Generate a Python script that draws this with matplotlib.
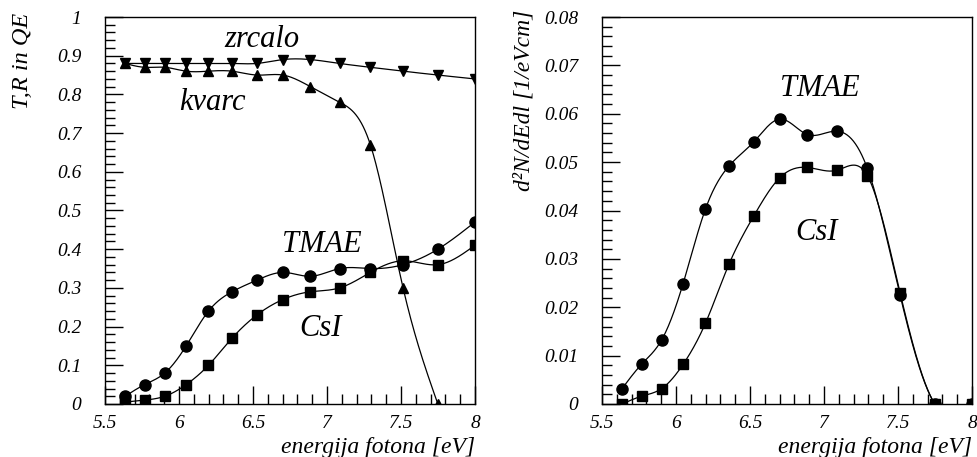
import numpy as np
import matplotlib
matplotlib.use('Agg')
import matplotlib.pyplot as plt
from matplotlib.ticker import MultipleLocator, FuncFormatter

# === DATI ===
energija = [5.636, 5.767, 5.904, 6.048, 6.199, 6.358, 6.526, 6.702,
            6.888, 7.085, 7.293, 7.514, 7.749, 7.999]

zrcalo = [0.88, 0.88, 0.88, 0.88, 0.88, 0.88, 0.88, 0.89, 0.89, 0.88,
          0.87, 0.86, 0.85, 0.84]
kvarc = [0.88, 0.87, 0.87, 0.86, 0.86, 0.86, 0.85, 0.85, 0.82, 0.78,
         0.67, 0.30, 0.0]
qe_tmae = [0.02, 0.05, 0.08, 0.15, 0.24, 0.29, 0.32, 0.34, 0.33, 0.35,
           0.35, 0.36, 0.40, 0.47]
qe_csi = [0.005, 0.01, 0.02, 0.05, 0.10, 0.17, 0.23, 0.27, 0.29, 0.30,
          0.34, 0.37, 0.36, 0.41]

dn_tmae = [0.0032, 0.0082, 0.0133, 0.0249, 0.0403, 0.0492, 0.0542, 0.0589,
           0.0557, 0.0564, 0.0487, 0.0225, 0.0, 0.0]
dn_csi = [0.0, 0.0016, 0.0032, 0.0082, 0.0167, 0.0289, 0.0389, 0.0468,
          0.0489, 0.0483, 0.0472, 0.0230, 0.0, 0.0]

FONT = 'Liberation Serif'
plt.rcParams['font.family'] = FONT
plt.rcParams['font.style'] = 'italic'


def spline(x, y, n=500):
    # prirodni kubni spline (kao opcija "C" u ROOT-u)
    x = np.asarray(x, float)
    y = np.asarray(y, float)
    m = len(x)
    h = np.diff(x)
    A = np.zeros((m, m))
    b = np.zeros(m)
    A[0, 0] = 1
    A[-1, -1] = 1
    for i in range(1, m - 1):
        A[i, i - 1] = h[i - 1]
        A[i, i] = 2 * (h[i - 1] + h[i])
        A[i, i + 1] = h[i]
        b[i] = 6 * ((y[i + 1] - y[i]) / h[i] - (y[i] - y[i - 1]) / h[i - 1])
    M = np.linalg.solve(A, b)
    xs = np.linspace(x[0], x[-1], n)
    k = np.clip(np.searchsorted(x, xs) - 1, 0, m - 2)
    t1 = x[k + 1] - xs
    t0 = xs - x[k]
    hk = h[k]
    ys = (M[k] * t1 ** 3 + M[k + 1] * t0 ** 3) / (6 * hk) \
        + (y[k] / hk - M[k] * hk / 6) * t1 + (y[k + 1] / hk - M[k + 1] * hk / 6) * t0
    return xs, ys


def crtaj(ax, x, y, marker, ms):
    xs, ys = spline(x, y)
    ax.plot(xs, ys, color='black', lw=0.9)
    ax.plot(x, y, ls='none', marker=marker, ms=ms, color='black')


def osi(ax, ymax, ymaj, ymin):
    ax.set_xlim(5.5, 8)
    ax.set_ylim(0, ymax)
    ax.xaxis.set_major_locator(MultipleLocator(0.5))
    ax.xaxis.set_minor_locator(MultipleLocator(0.1))
    ax.yaxis.set_major_locator(MultipleLocator(ymaj))
    ax.yaxis.set_minor_locator(MultipleLocator(ymin))
    fmt = FuncFormatter(lambda v, p: '%g' % round(v, 4))
    ax.xaxis.set_major_formatter(fmt)
    ax.yaxis.set_major_formatter(fmt)
    ax.tick_params(which='both', direction='in', top=False, right=False,
                   width=1, labelsize=14)
    ax.tick_params(which='major', length=13)
    ax.tick_params(which='minor', length=7)
    ax.tick_params(axis='y', pad=17)
    ax.tick_params(axis='x', pad=8)
    for s in ax.spines.values():
        s.set_linewidth(1)
    ax.text(1.0, -0.127, 'energija fotona [eV]', transform=ax.transAxes,
            ha='right', va='baseline', fontsize=17)


fig = plt.figure(figsize=(9.77, 4.57), dpi=100)
ax1 = fig.add_axes([105 / 977, 53 / 457, 370 / 977, 387 / 457])
ax2 = fig.add_axes([602 / 977, 53 / 457, 370 / 977, 387 / 457])

# lijevi graf
osi(ax1, 1.0, 0.1, 0.02)
crtaj(ax1, energija, zrcalo, 'v', 7)
crtaj(ax1, energija[:len(kvarc)], kvarc, '^', 7)
crtaj(ax1, energija, qe_tmae, 'o', 8)
crtaj(ax1, energija, qe_csi, 's', 7)
ax1.text(-0.224, 1.012, 'T,R in QE', transform=ax1.transAxes, rotation=90,
         ha='center', va='top', fontsize=17.5)
ax1.text(6.561, 0.922, 'zrcalo', ha='center', va='baseline', fontsize=22)
ax1.text(6.223, 0.759, 'kvarc', ha='center', va='baseline', fontsize=22)
ax1.text(6.966, 0.394, 'TMAE', ha='center', va='baseline', fontsize=22)
ax1.text(6.953, 0.176, 'CsI', ha='center', va='baseline', fontsize=22)

# desni graf
osi(ax2, 0.08, 0.01, 0.002)
crtaj(ax2, energija, dn_tmae, 'o', 8)
crtaj(ax2, energija, dn_csi, 's', 7)
ax2.text(-0.211, 1.018, 'd²N/dEdl [1/eVcm]', transform=ax2.transAxes,
         rotation=90, ha='center', va='top', fontsize=17)
ax2.text(6.973, 0.0637, 'TMAE', ha='center', va='baseline', fontsize=22)
ax2.text(6.946, 0.0340, 'CsI', ha='center', va='baseline', fontsize=22)

fig.savefig('out.png', dpi=100)
